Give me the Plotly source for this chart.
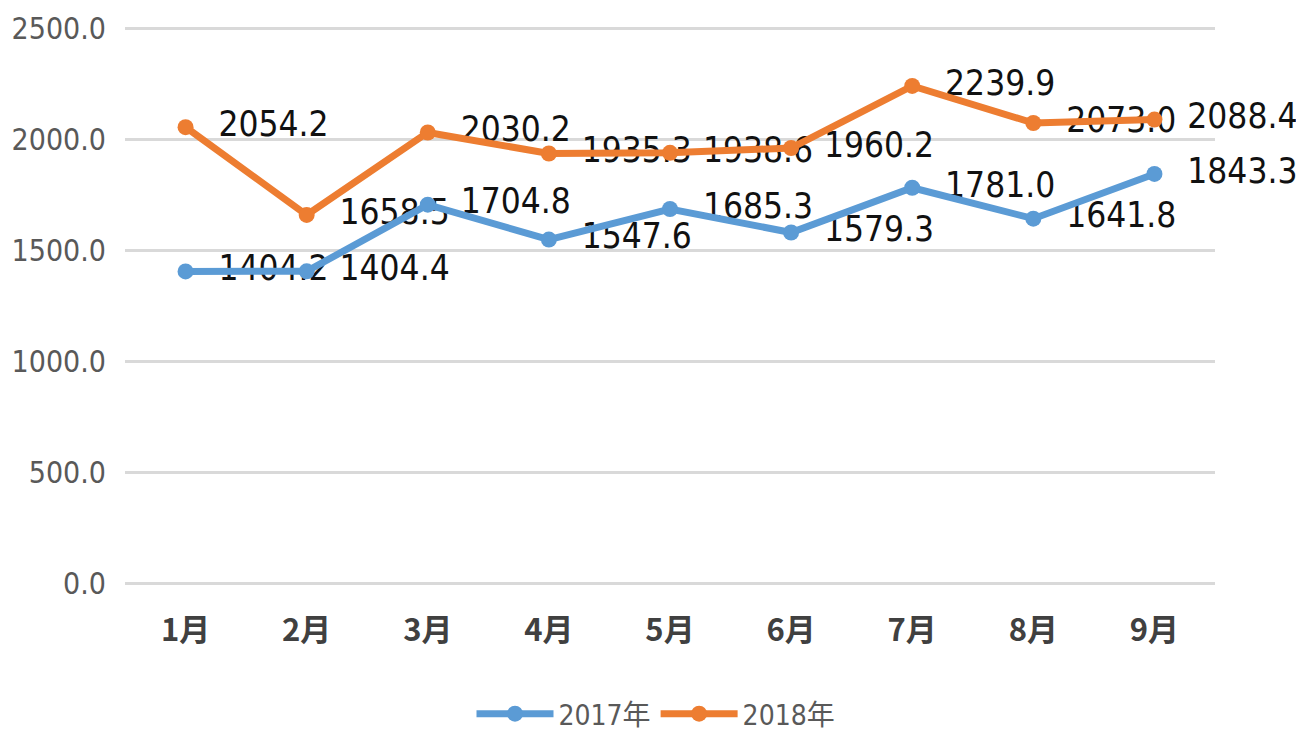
import plotly.graph_objects as go

months = ["1月", "2月", "3月", "4月", "5月", "6月", "7月", "8月", "9月"]
s2017 = [1404.2, 1404.4, 1704.8, 1547.6, 1685.3, 1579.3, 1781.0, 1641.8, 1843.3]
s2018 = [2054.2, 1658.5, 2030.2, 1935.3, 1938.6, 1960.2, 2239.9, 2073.0, 2088.4]
series_names = ["2017年", "2018年"]
colors = ["#5B9BD5", "#ED7D31"]
y_ticks = [0, 500, 1000, 1500, 2000, 2500]

label_font = dict(family="DejaVu Sans Condensed, Noto Sans CJK SC", size=35, color="#111111")

fig = go.Figure()

# data labels first so that the lines sit above them (as in the reference)
for vals in (s2017, s2018):
    fig.add_trace(go.Scatter(
        x=months, y=vals, mode="markers+text",
        text=[f"{v:.1f}" for v in vals], textposition="middle right",
        textfont=label_font,
        marker=dict(size=51, color="rgba(0,0,0,0)"),
        showlegend=False, hoverinfo="skip", cliponaxis=False,
    ))

for name, vals, c in zip(series_names, (s2017, s2018), colors):
    fig.add_trace(go.Scatter(
        x=months, y=vals, mode="lines+markers", name=name,
        line=dict(color=c, width=7),
        marker=dict(size=16, color=c),
        cliponaxis=False,
    ))

fig.update_layout(
    width=1296, height=723,
    margin=dict(l=117, r=89, t=18, b=148, autoexpand=False),
    paper_bgcolor="white", plot_bgcolor="white",
    showlegend=True,
    legend=dict(
        orientation="h", xref="container", yref="container",
        x=0.5, xanchor="center", y=0.0235, yanchor="middle",
        font=dict(family="DejaVu Sans Condensed, Noto Sans CJK SC", size=28, color="#595959"),
        itemwidth=77, bgcolor="rgba(0,0,0,0)",
    ),
)
fig.update_xaxes(
    type="category", categoryorder="array", categoryarray=months,
    range=[-0.5, len(months) - 0.5], automargin=False,
    showgrid=False, showline=False, zeroline=False, ticks="",
    tickfont=dict(family="Noto Sans CJK SC", size=31, color="#404040", weight="bold"),
    ticklabelstandoff=26,
)
fig.update_yaxes(
    range=[0, 2510], tickvals=y_ticks, tickformat=".1f", automargin=False,
    showgrid=True, gridcolor="#D9D9D9", gridwidth=2.5,
    zeroline=True, zerolinecolor="#D9D9D9", zerolinewidth=2.5,
    showline=False, ticks="",
    tickfont=dict(family="DejaVu Sans Condensed", size=30, color="#595959"),
    ticklabelstandoff=18,
)

fig.write_html("out.html")
